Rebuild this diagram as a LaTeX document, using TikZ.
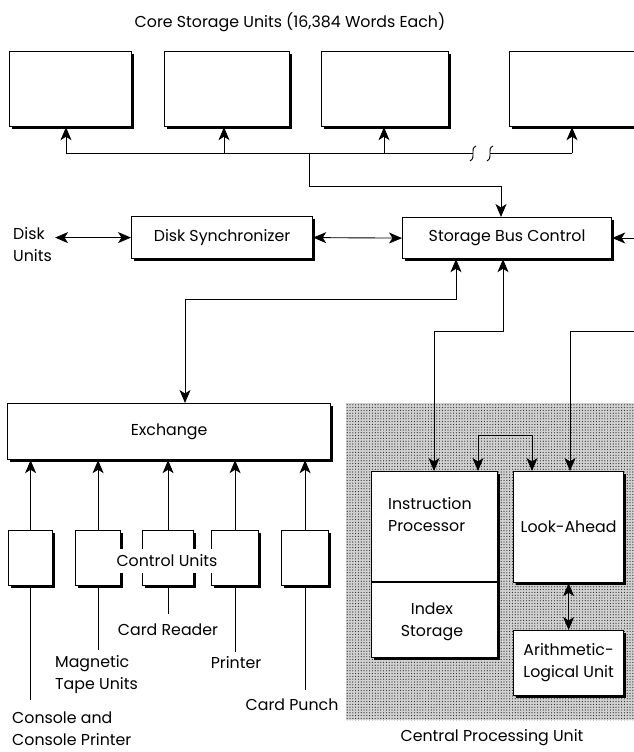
\documentclass[tikz,border=0pt]{standalone}
\usepackage{fontspec}
\setmainfont{Poppins}
\usetikzlibrary{arrows.meta,shadows,patterns.meta}
\begin{document}
\begin{tikzpicture}[x=1pt,y=-1pt,
  font=\fontsize{15.8}{22}\selectfont,
  box/.style={draw, line width=1.2pt, fill=white, anchor=north west, inner sep=0pt,
    drop shadow={shadow xshift=2.5pt, shadow yshift=-2.5pt, opacity=1, fill=black}},
  conn/.style={line width=0.9pt},
  arr/.style={conn, -{Stealth[length=13pt,width=11pt,inset=3.5pt]}},
  darr/.style={conn, {Stealth[length=13pt,width=11pt,inset=3.5pt]}-{Stealth[length=13pt,width=11pt,inset=3.5pt]}},
  lbl/.style={inner sep=0pt, align=center}]
\useasboundingbox (0,0) rectangle (634,752);
\clip (0,0) rectangle (634,752);

% CPU stipple region
\node[anchor=north west, inner sep=0pt, minimum width=290pt, minimum height=317pt,
  preaction={fill=black!18}, pattern={Dots[radius=0.6pt,distance=2.8pt]}, pattern color=black!85] (cpu) at (346,403) {};

% title
\node[lbl] (title) at (290,22) {Core Storage Units (16,384 Words Each)};

% core storage boxes
\node[box, minimum width=122pt, minimum height=75pt] (cs1) at (9,51) {};
\node[box, minimum width=125pt, minimum height=75pt] (cs2) at (164,51) {};
\node[box, minimum width=127pt, minimum height=75pt] (cs3) at (321,51) {};
\node[box, minimum width=140pt, minimum height=75pt] (cs4) at (509,51) {};

% bus
\coordinate (b1) at (66,153);
\coordinate (b2) at (224,153);
\coordinate (b3) at (384,153);
\coordinate (b4) at (572,153);
\coordinate (br) at (309,153);
\coordinate (gapL) at (473,153);
\coordinate (gapR) at (490,153);
\draw[conn] (b1) -- (gapL);
\draw[conn] (gapR) -- (b4);
\draw[conn] (476,146) .. controls (469,149) and (477,157) .. (470,161);
\draw[conn] (493,146) .. controls (486,149) and (494,157) .. (487,161);
\draw[arr] (b1) -- (b1 |- cs1.south);
\draw[arr] (b2) -- (b2 |- cs2.south);
\draw[arr] (b3) -- (b3 |- cs3.south);
\draw[arr] (b4) -- (b4 |- cs4.south);

% disk units, synchronizer, storage bus control
\node[lbl, align=left, anchor=west] (disk) at (13,245) {Disk\\Units};
\node[box, minimum width=181pt, minimum height=42pt] (ds) at (131,216) {Disk Synchronizer};
\node[box, minimum width=209pt, minimum height=41pt] (sbc) at (402,217) {Storage Bus Control};
\coordinate (sin) at (501,186);
\draw[arr] (br) |- (sin) -- (sin |- sbc.north);
\draw[darr] ([xshift=3pt]disk.east |- ds.west) -- (ds.west);
\draw[darr] (ds.east) -- (sbc.west);
\coordinate (rin) at (634,238);
\draw[arr] (rin) -- (rin -| sbc.east);

% exchange
\node[box, minimum width=323pt, minimum height=56pt] (ex) at (7,403) {Exchange};
\coordinate (e1) at (456,299);
\coordinate (e2) at (185,299);
\draw[darr] (e1 |- sbc.south) -- (e1) -- (e2) -- (e2 |- ex.north);

% control units
\node[box, minimum width=44pt, minimum height=55pt] (cu1) at (8,530) {};
\node[box, minimum width=45pt, minimum height=55pt] (cu2) at (75,530) {};
\node[box, minimum width=51pt, minimum height=55pt] (cu3) at (142,530) {};
\node[box, minimum width=47pt, minimum height=55pt] (cu4) at (211,530) {};
\node[box, minimum width=47pt, minimum height=55pt] (cu5) at (281,530) {};
\node[fill=white, inner xsep=1.5pt, inner ysep=6pt] (cul) at (167,561) {Control Units};
\foreach \c in {cu1,cu2,cu3,cu4,cu5}{
  \draw[arr] (\c.north) -- (\c.north |- ex.south);
}
\draw[conn] (cu1.south) -- ++(0,114);
\draw[conn] (cu2.south) -- ++(0,64);
\draw[conn] (cu3.south) -- ++(0,28);
\draw[conn] (cu4.south) -- ++(0,66);
\draw[conn] (cu5.south) -- ++(0,104);
\node[lbl, align=left, anchor=west] (con) at (12,729) {Console and\\Console Printer};
\node[lbl, align=left, anchor=west] (mag) at (55,675) {Magnetic\\Tape Units};
\node[lbl] (cr) at (168,630) {Card Reader};
\node[lbl] (pr) at (236,663) {Printer};
\node[lbl] (cp) at (292,705) {Card Punch};

% CPU boxes
\node[box, minimum width=126pt, minimum height=186pt] (ip) at (371,471) {};
\draw[line width=1.2pt] (ip.west |- 0,582) -- (ip.east |- 0,582);
\node[lbl, align=left, anchor=west] (ipt) at (388,515) {Instruction\\Processor};
\node[lbl] (ist) at (432,622) {Index\\Storage};
\node[box, minimum width=110pt, minimum height=111pt] (la) at (513,471) {Look-Ahead};
\node[box, minimum width=110pt, minimum height=65pt, align=center] (alu) at (513,630) {Arithmetic-\\Logical Unit};
\draw[darr] (la.south) -- (alu.north);

\coordinate (i1) at (503,331);
\coordinate (i2) at (434,331);
\draw[darr] (i1 |- sbc.south) -- (i1) -- (i2) -- (i2 |- ip.north);
\coordinate (lin) at (634,331);
\coordinate (l2) at (570,331);
\draw[arr] (lin) -- (l2) -- (l2 |- la.north);
\coordinate (lp1) at (478,435);
\coordinate (lp2) at (532,435);
\draw[darr] (lp1 |- ip.north) -- (lp1) -- (lp2) -- (lp2 |- la.north);

\node[lbl] (cpul) at (492,738) {Central Processing Unit};
\end{tikzpicture}
\end{document}
